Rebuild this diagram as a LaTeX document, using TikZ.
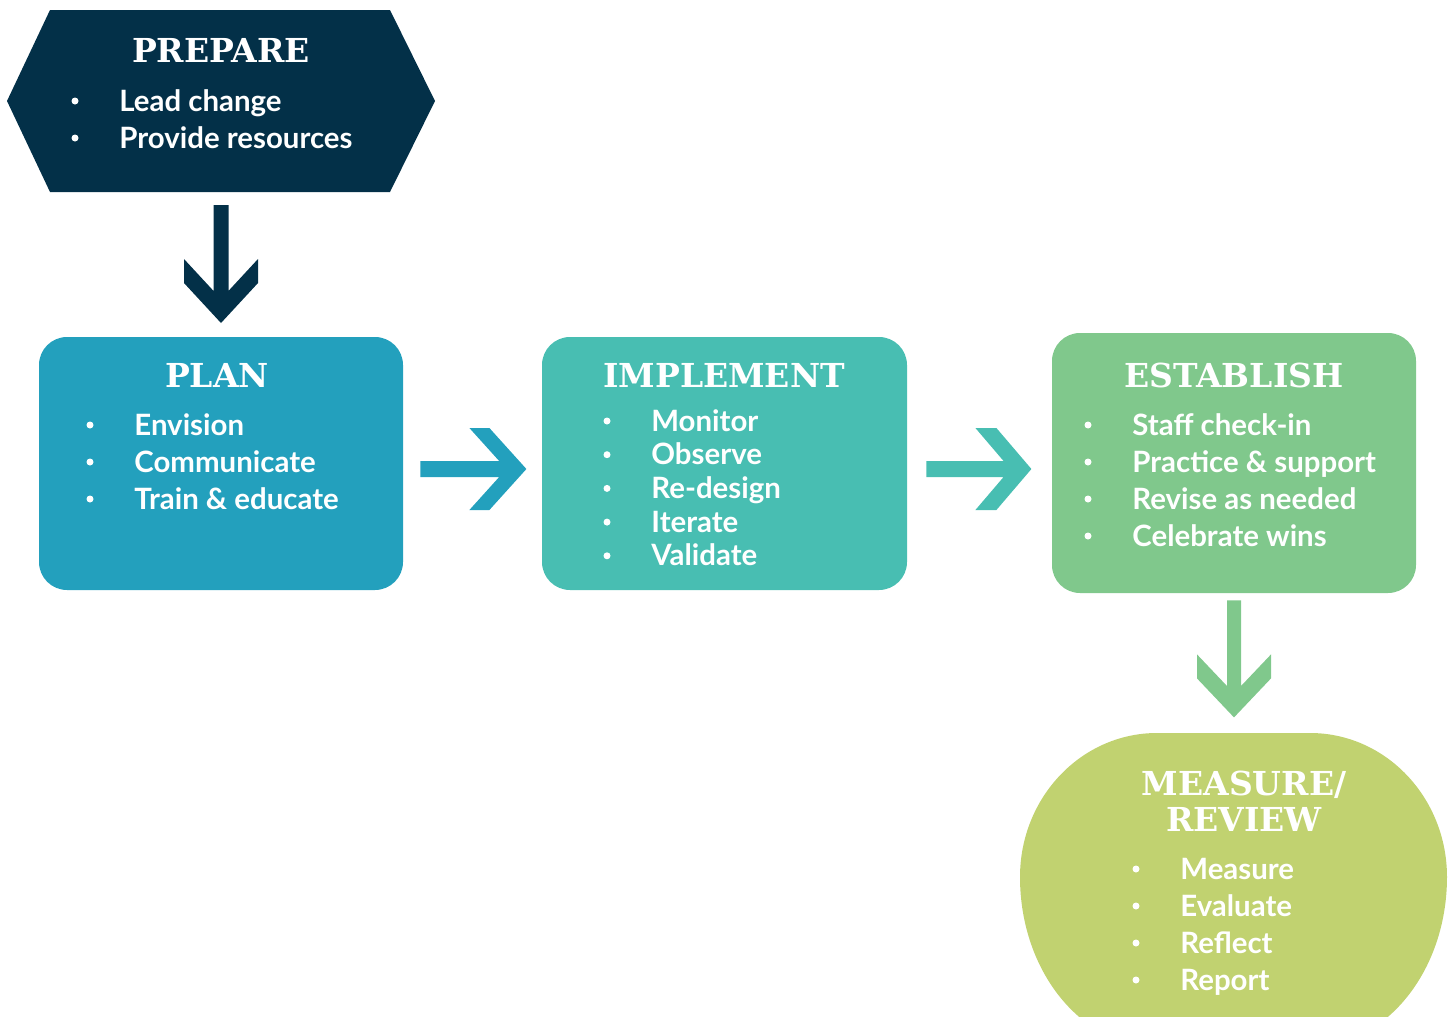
\documentclass[tikz,border=0pt]{standalone}
\usepackage{fontspec}
\usetikzlibrary{calc}
\newfontfamily\headfont{DejaVu Serif}
\newfontfamily\bodyfont{Lato}
\definecolor{navy}{RGB}{3,48,72}
\definecolor{plancol}{RGB}{35,160,189}
\definecolor{implcol}{RGB}{72,190,178}
\definecolor{estcol}{RGB}{128,200,140}
\definecolor{meascol}{RGB}{193,210,112}
\tikzset{
  stage/.style={rounded corners=14pt,inner sep=0pt,minimum width=182pt,minimum height=126.5pt},
  heading/.style={text=white,font=\headfont\bfseries\fontsize{16.5}{18}\selectfont,align=center,inner sep=0pt},
  entry/.style={text=white,font=\bodyfont\bfseries\fontsize{14.7}{17}\selectfont,anchor=base west,inner sep=0pt},
}
\begin{document}
\begin{tikzpicture}[x=0.5pt,y=-0.5pt]
	\useasboundingbox (0,0) rectangle (1453,1017);
	% stages
	\fill[navy] (50,10)--(390,10)--(435,101)--(390,192)--(50,192)--(7,101)--cycle;
	\coordinate (prep-s) at (221,192);
	\node[stage,fill=plancol] (plan) at (221,463.5) {};
	\node[stage,fill=implcol,minimum width=182.5pt] (impl) at (724.5,463.5) {};
	\node[stage,fill=estcol,minimum height=130pt] (est) at (1234,463) {};
	\fill[meascol] (1157,733)--(1310,733) arc[start angle=-90,end angle=0,x radius=137,y radius=144]
		arc[start angle=0,end angle=90,x radius=137,y radius=170] -- (1157,1047)
		arc[start angle=90,end angle=180,x radius=137,y radius=170]
		arc[start angle=180,end angle=270,x radius=137,y radius=144] -- cycle;
	% arrows
	\coordinate (a1) at ($(prep-s)+(0,13)$);
	\coordinate (a2) at ($(plan.east)+(17,5.5)$);
	\coordinate (a3) at ($(impl.east)+(19,5.5)$);
	\coordinate (a4) at ($(est.south)+(0,7)$);
	\foreach \c/\p/\a/\L/\d/\h/\t/\s in {navy/a1/-90/118/40/37/24/7.5,
		plancol/a2/0/106/37/41/20/8, implcol/a3/0/105/35/41/21/8, estcol/a4/-90/117/39/37/24/7}
		\fill[\c,shift={(\p)},rotate=\a] (0,-\s)--({\L-\t-\d*\s/\h},-\s)--({\L-\d-\t},-\h)--({\L-\d},-\h)--(\L,0)
			--({\L-\d},\h)--({\L-\d-\t},\h)--({\L-\t-\d*\s/\h},\s)--(0,\s)--cycle;
	% headings
	\node[heading] (prep-head) at (221,50) {PREPARE};
	\node[heading] (plan-head) at (217,375) {PLAN};
	\node[heading] (impl-head) at (724,375) {IMPLEMENT};
	\node[heading] (est-head) at (1234,375) {ESTABLISH};
	\node[heading] (meas-head) at (1244,801) {MEASURE/\\REVIEW};
	% bullet lists
	\foreach \n/\x/\y/\dy/\items in {prep/119/111/37/{Lead change,Provide resources},
		plan/134/435/37/{Envision,Communicate,Train \& educate},
		impl/651/431/33.7/{Monitor,Observe,Re-design,Iterate,Validate},
		est/1132/435/37/{Staff check-in,Practice \& support,Revise as needed,Celebrate wins},
		meas/1180/879/37/{Measure,Evaluate,Reflect,Report}}
		\foreach \t [count=\i] in \items {
			\node[entry] (\n-\i) at (\x,{\y+\dy*(\i-1)}) {\t};
			\fill[white] ($(\n-\i.base west)+(-44,-10)$) circle (3.5);
		}
\end{tikzpicture}
\end{document}
